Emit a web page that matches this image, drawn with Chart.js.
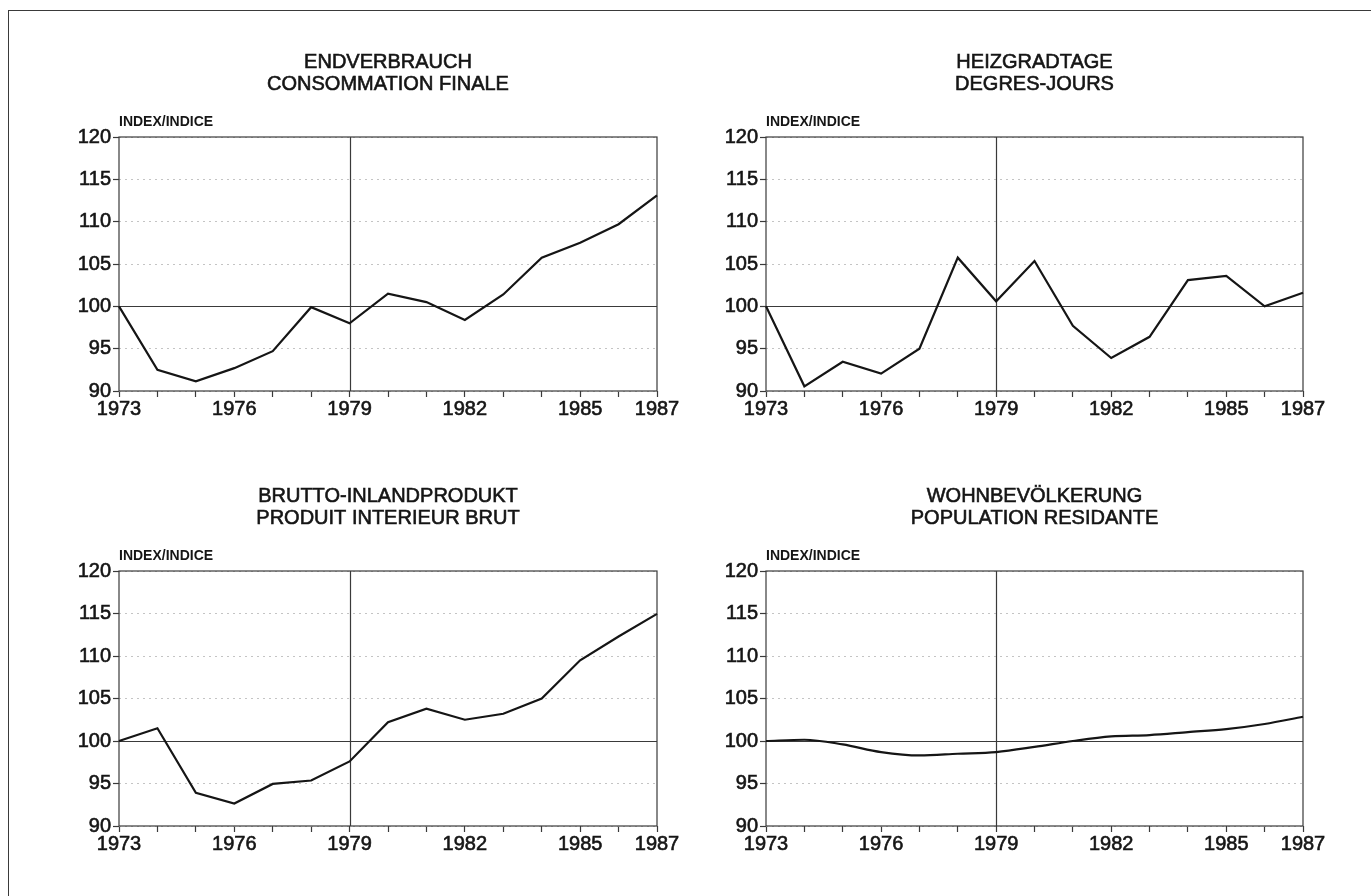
<!DOCTYPE html>
<html>
<head>
<meta charset="utf-8">
<script src="https://cdn.jsdelivr.net/npm/chart.js@4.4.1/dist/chart.umd.min.js"></script>
<style>
  html, body { margin: 0; padding: 0; background: #fff; }
  body { width: 1371px; height: 896px; position: relative; overflow: hidden; }
  canvas { position: absolute; }
  #frame { position: absolute; left: 8px; top: 10px; width: 1400px; height: 900px;
           border-top: 1.5px solid #3a3a3a; border-left: 1.5px solid #3a3a3a; }
</style>
</head>
<body>
<div id="frame"></div>
<canvas id="c1"></canvas>
<canvas id="c2"></canvas>
<canvas id="c3"></canvas>
<canvas id="c4"></canvas>
<script>
// ---- data ----
const years = ['1973','1974','1975','1976','1977','1978','1979','1980','1981','1982','1983','1984','1985','1986','1987'];
const shownYearLabels = ['1973','1976','1979','1982','1985','1987'];
const yMin = 90, yMax = 120, yStep = 5;
const baseValue = 100;
const markerYear = '1979';
const axisLabel = 'INDEX/INDICE';

const endverbrauch = [100, 92.5, 91.15, 92.7, 94.7, 99.9, 98.0, 101.5, 100.5, 98.4, 101.4, 105.75, 107.5, 109.7, 113.1];
const heizgradtage = [100, 90.55, 93.45, 92.05, 95.0, 105.75, 100.6, 105.35, 97.7, 93.9, 96.4, 103.1, 103.6, 100.0, 101.6];
const bruttoInland = [100, 101.5, 93.9, 92.65, 94.95, 95.35, 97.6, 102.2, 103.8, 102.5, 103.2, 105.0, 109.5, 112.3, 114.95];
const wohnbev = [100, 100.15, 99.6, 98.7, 98.3, 98.5, 98.7, 99.3, 100.0, 100.55, 100.7, 101.05, 101.4, 102.0, 102.85];

const titles1 = ['ENDVERBRAUCH', 'CONSOMMATION FINALE'];
const titles2 = ['HEIZGRADTAGE', 'DEGRES-JOURS'];
const titles3 = ['BRUTTO-INLANDPRODUKT', 'PRODUIT INTERIEUR BRUT'];
const titles4 = ['WOHNBEVÖLKERUNG', 'POPULATION RESIDANTE'];

// ---- style ----
const FONT = "'Liberation Sans', Arial, Helvetica, sans-serif";
const INK = '#151515';
const AXIS = '#3a3a3a';
const GRID = '#c4c4c4';
const STROKE_W = 0.6;

const PAD_L = 90, PAD_T = 100, PAD_R = 40, PAD_B = 45, YAXIS_W = 55;

const framePlugin = {
  id: 'frameLines',
  beforeDatasetsDraw(chart) {
    const {ctx, chartArea: a, scales: {x, y}} = chart;
    ctx.save();
    ctx.strokeStyle = AXIS;
    ctx.lineWidth = 1.2;
    ctx.strokeRect(a.left, a.top, a.right - a.left, a.bottom - a.top);
    const yb = Math.round(y.getPixelForValue(baseValue)) + 0.5;
    ctx.beginPath(); ctx.moveTo(a.left, yb); ctx.lineTo(a.right, yb); ctx.stroke();
    const xm = Math.round(x.getPixelForValue(years.indexOf(markerYear))) + 0.5;
    ctx.beginPath(); ctx.moveTo(xm, a.top); ctx.lineTo(xm, a.bottom); ctx.stroke();
    ctx.restore();
  },
  afterDraw(chart) {
    const {ctx, chartArea: a} = chart;
    const t = chart.options.plugins.frameLines.titles;
    ctx.save();
    ctx.fillStyle = INK;
    ctx.strokeStyle = INK;
    ctx.lineWidth = STROKE_W;
    ctx.textAlign = 'center';
    ctx.textBaseline = 'middle';
    ctx.font = '20px ' + FONT;
    const cx = (a.left + a.right) / 2;
    ctx.fillText(t[0], cx, a.top - 75);
    ctx.strokeText(t[0], cx, a.top - 75);
    ctx.fillText(t[1], cx, a.top - 53);
    ctx.strokeText(t[1], cx, a.top - 53);
    ctx.textAlign = 'left';
    ctx.font = 'bold 14px ' + FONT;
    ctx.fillText(axisLabel, a.left, a.top - 15);
    ctx.restore();
  }
};

function makePanel(id, area, titles, values, smooth) {
  const cv = document.getElementById(id);
  const w = (area.r - area.l) + PAD_L + PAD_R;
  const h = (area.b - area.t) + PAD_T + PAD_B;
  cv.width = w; cv.height = h;
  cv.style.width = w + 'px'; cv.style.height = h + 'px';
  cv.style.left = (area.l - PAD_L) + 'px';
  cv.style.top = (area.t - PAD_T) + 'px';
  return new Chart(cv, {
    type: 'line',
    data: {
      labels: years,
      datasets: [{
        data: values,
        borderColor: INK,
        borderWidth: 2.2,
        pointRadius: 0,
        fill: false,
        tension: smooth ? 0.4 : 0,
        cubicInterpolationMode: smooth ? 'monotone' : 'default'
      }]
    },
    options: {
      responsive: false,
      animation: false,
      devicePixelRatio: 1,
      layout: { padding: { left: PAD_L - YAXIS_W, top: PAD_T, right: PAD_R, bottom: 0 } },
      plugins: {
        legend: { display: false },
        tooltip: { enabled: false },
        title: { display: false },
        frameLines: { titles: titles }
      },
      scales: {
        x: {
          type: 'category',
          offset: false,
          afterFit: (s) => { s.height = PAD_B; },
          grid: { drawOnChartArea: false, drawTicks: true, tickLength: 6, tickColor: AXIS, tickWidth: 1.2 },
          border: { display: false },
          ticks: {
            autoSkip: false, maxRotation: 0, minRotation: 0, padding: 0,
            color: INK, textStrokeColor: INK, textStrokeWidth: STROKE_W,
            font: { family: FONT, size: 20 },
            callback: function(v, i) { const l = years[i]; return shownYearLabels.includes(l) ? l : ''; }
          }
        },
        y: {
          min: yMin, max: yMax,
          afterFit: (s) => { s.width = YAXIS_W; },
          grid: { color: GRID, lineWidth: 1, drawTicks: true, tickLength: 6, tickColor: AXIS, tickWidth: 1.2 },
          border: { display: false, dash: [2, 4] },
          ticks: { stepSize: yStep, padding: 2, color: INK, textStrokeColor: INK, textStrokeWidth: STROKE_W,
                   font: { family: FONT, size: 20 } }
        }
      }
    },
    plugins: [framePlugin]
  });
}

makePanel('c1', {l: 119, t: 137, r: 657, b: 391}, titles1, endverbrauch, false);
makePanel('c2', {l: 766, t: 137, r: 1303, b: 391}, titles2, heizgradtage, false);
makePanel('c3', {l: 119, t: 571, r: 657, b: 826}, titles3, bruttoInland, false);
makePanel('c4', {l: 766, t: 571, r: 1303, b: 826}, titles4, wohnbev, true);
</script>
</body>
</html>
